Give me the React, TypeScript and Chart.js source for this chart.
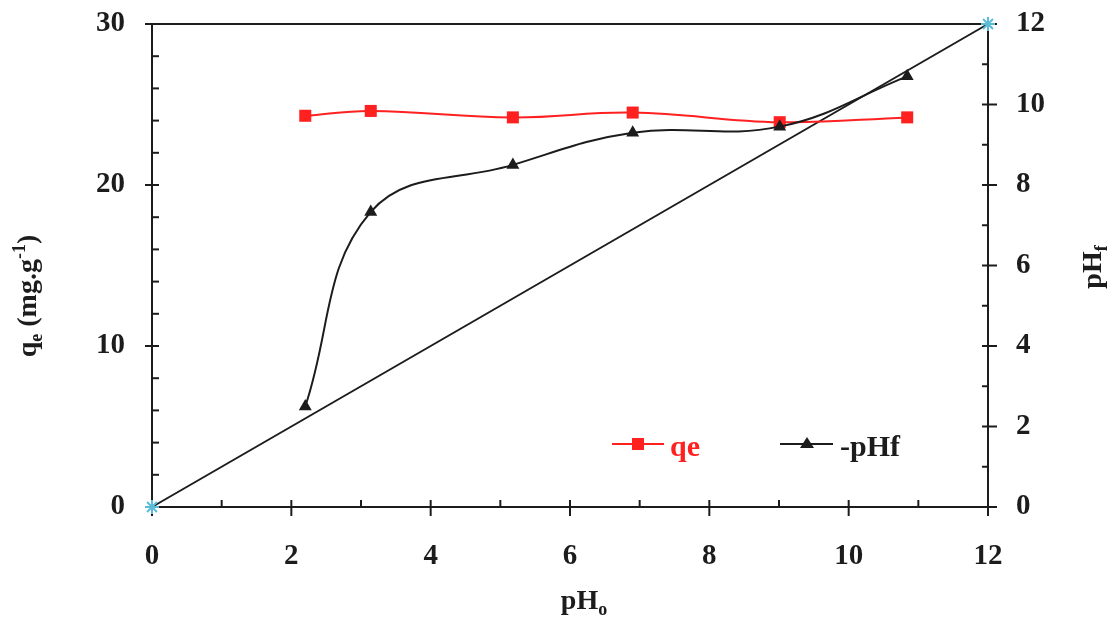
import React, { useEffect, useRef } from 'react';
import { Chart, registerables } from 'chart.js';

Chart.register(...registerables);

// Initial pH of the solution (x axis)
const pH0 = [2.2, 3.14, 5.18, 6.9, 9.01, 10.84];
// Adsorption capacity qe (mg/g), left axis
const qe = [24.3, 24.6, 24.2, 24.5, 23.9, 24.2];
// Final pH, right axis
const pHf = [2.5, 7.33, 8.5, 9.3, 9.45, 10.7];
// pHf = pH0 reference line end points
const refX = [0, 12];
const refY = [0, 12];

const xTicks = { min: 0, max: 12, step: 2 };
const leftTicks = { min: 0, max: 30, step: 10 };
const rightTicks = { min: 0, max: 12, step: 2 };

const RED = '#ff2020';
const INK = '#1c1c1c';
const CYAN = '#5bbcd6';
const SERIF = '"Liberation Serif", "Times New Roman", serif';

type Part = { text: string; size: number; dy?: number };

function drawRich(
  ctx: CanvasRenderingContext2D,
  x: number,
  y: number,
  rotation: number,
  parts: Part[],
  color: string,
  align: 'center' | 'left' = 'center'
) {
  ctx.save();
  ctx.translate(x, y);
  ctx.rotate(rotation);
  ctx.fillStyle = color;
  ctx.textBaseline = 'alphabetic';
  ctx.textAlign = 'left';
  let total = 0;
  for (const p of parts) {
    ctx.font = `bold ${p.size}px ${SERIF}`;
    total += ctx.measureText(p.text).width;
  }
  let cx = align === 'center' ? -total / 2 : 0;
  for (const p of parts) {
    ctx.font = `bold ${p.size}px ${SERIF}`;
    ctx.fillText(p.text, cx, p.dy || 0);
    cx += ctx.measureText(p.text).width;
  }
  ctx.restore();
}

const framePlugin = {
  id: 'frame',
  beforeDatasetsDraw(chart: any) {
    const { ctx, chartArea: a, scales } = chart;
    ctx.save();
    ctx.strokeStyle = INK;
    ctx.lineWidth = 2;
    const seg = (x1: number, y1: number, x2: number, y2: number) => {
      ctx.beginPath();
      ctx.moveTo(x1, y1);
      ctx.lineTo(x2, y2);
      ctx.stroke();
    };
    seg(a.left, a.top, a.left, a.bottom);
    seg(a.left, a.top, a.right, a.top);
    seg(a.right, a.top, a.right, a.bottom);
    seg(a.left, a.bottom, a.right, a.bottom);

    // left axis: majors every 10 crossing, minors every 2 inside
    for (let v = leftTicks.min; v <= leftTicks.max; v += 2) {
      const py = scales.y.getPixelForValue(v);
      if (v % leftTicks.step === 0) seg(a.left - 7, py, a.left + 7, py);
      else seg(a.left, py, a.left + 7, py);
    }
    // x axis: majors every 2 crossing, minors every 1 inside
    for (let v = xTicks.min; v <= xTicks.max; v += 1) {
      const px = scales.x.getPixelForValue(v);
      if (v % xTicks.step === 0) seg(px, a.bottom - 7, px, a.bottom + 9);
      else seg(px, a.bottom - 7, px, a.bottom);
    }
    // right axis: majors every 2 crossing, minors every 1 inside
    for (let v = rightTicks.min; v <= rightTicks.max; v += 1) {
      const py = scales.y2.getPixelForValue(v);
      if (v % rightTicks.step === 0) seg(a.right - 6, py, a.right + 9, py);
      else seg(a.right - 6, py, a.right, py);
    }
    ctx.restore();
  },
  afterDraw(chart: any) {
    const { ctx } = chart;
    // axis titles
    drawRich(ctx, 36, 296, -Math.PI / 2, [
      { text: 'q', size: 28 },
      { text: 'e', size: 18, dy: 6 },
      { text: ' (mg.g', size: 28 },
      { text: '-1', size: 18, dy: -11 },
      { text: ')', size: 28 },
    ], INK);
    drawRich(ctx, 1101, 267, -Math.PI / 2, [
      { text: 'pH', size: 28 },
      { text: 'f', size: 18, dy: 6 },
    ], INK);
    drawRich(ctx, 584, 609, 0, [
      { text: 'pH', size: 28 },
      { text: 'o', size: 18, dy: 6 },
    ], INK);

    // legend
    ctx.save();
    ctx.lineWidth = 2;
    ctx.strokeStyle = RED;
    ctx.fillStyle = RED;
    ctx.beginPath();
    ctx.moveTo(612, 444);
    ctx.lineTo(664, 444);
    ctx.stroke();
    ctx.fillRect(638 - 6, 444 - 6, 12, 12);
    ctx.strokeStyle = INK;
    ctx.fillStyle = INK;
    ctx.beginPath();
    ctx.moveTo(780, 444);
    ctx.lineTo(833, 444);
    ctx.stroke();
    ctx.beginPath();
    ctx.moveTo(807, 437);
    ctx.lineTo(814, 448);
    ctx.lineTo(800, 448);
    ctx.closePath();
    ctx.fill();
    ctx.restore();
    drawRich(ctx, 670, 456, 0, [{ text: 'qe', size: 30 }], RED, 'left');
    drawRich(ctx, 840, 456, 0, [{ text: '-pHf', size: 30 }], INK, 'left');
  },
};

export default function App() {
  const ref = useRef<HTMLCanvasElement>(null);

  useEffect(() => {
    const canvas = ref.current;
    if (!canvas) return;
    const tickFont = { family: SERIF, size: 29, weight: 'bold' as const };

    const chart = new Chart(canvas, {
      type: 'line',
      data: {
        datasets: [
          {
            label: 'qe',
            yAxisID: 'y',
            data: pH0.map((x, i) => ({ x, y: qe[i] })),
            borderColor: RED,
            backgroundColor: RED,
            borderWidth: 2,
            pointStyle: 'rect',
            pointRadius: 8.5,
            pointBorderWidth: 0,
            tension: 0.4,
            order: 1,
          },
          {
            label: '-pHf',
            yAxisID: 'y2',
            data: pH0.map((x, i) => ({ x, y: pHf[i] })),
            borderColor: INK,
            backgroundColor: INK,
            borderWidth: 2,
            pointStyle: 'triangle',
            pointRadius: 7.5,
            pointBorderWidth: 0,
            tension: 0.4,
            order: 0,
          },
          {
            label: 'pH0 = pHf',
            yAxisID: 'y2',
            data: refX.map((x, i) => ({ x, y: refY[i] })),
            borderColor: INK,
            borderWidth: 2,
            pointStyle: 'star',
            pointRadius: 7,
            pointBorderColor: CYAN,
            pointBackgroundColor: CYAN,
            pointBorderWidth: 2,
            tension: 0,
            clip: false as any,
            order: 2,
          },
        ],
      },
      options: {
        responsive: false,
        animation: false,
        layout: { padding: { top: 24, left: 0, right: 0, bottom: 0 } },
        plugins: { legend: { display: false }, tooltip: { enabled: false } },
        scales: {
          x: {
            type: 'linear',
            min: xTicks.min,
            max: xTicks.max,
            ticks: { stepSize: xTicks.step, font: tickFont, color: INK, padding: 32, maxRotation: 0 },
            grid: { display: false, drawTicks: false },
            border: { display: false },
            afterFit: (s: any) => { s.height = 111; s.paddingLeft = 0; s.paddingRight = 0; },
          },
          y: {
            type: 'linear',
            position: 'left',
            min: leftTicks.min,
            max: leftTicks.max,
            ticks: { stepSize: leftTicks.step, font: tickFont, color: INK, padding: 27 },
            grid: { display: false, drawTicks: false },
            border: { display: false },
            afterFit: (s: any) => { s.width = 152; s.paddingTop = 0; s.paddingBottom = 0; },
          },
          y2: {
            type: 'linear',
            position: 'right',
            min: rightTicks.min,
            max: rightTicks.max,
            ticks: { stepSize: rightTicks.step, font: tickFont, color: INK, padding: 28 },
            grid: { display: false, drawTicks: false },
            border: { display: false },
            afterFit: (s: any) => { s.width = 122; s.paddingTop = 0; s.paddingBottom = 0; },
          },
        },
      },
      plugins: [framePlugin],
    });
    return () => chart.destroy();
  }, []);

  return (
    <div style={{ position: 'fixed', left: 0, top: 0, width: 1110, height: 618, background: '#fff' }}>
      <canvas ref={ref} width={1110} height={618} style={{ display: 'block' }} />
    </div>
  );
}
